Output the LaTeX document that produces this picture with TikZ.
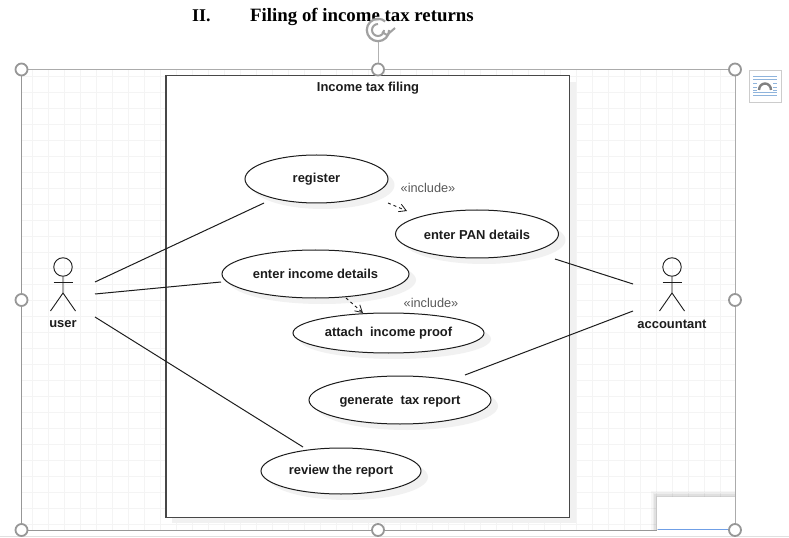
\documentclass[tikz,border=0pt]{standalone}
\usepackage{fontspec}
\setmainfont{Liberation Sans}
\newfontfamily\titlefont{Liberation Serif}
\usetikzlibrary{arrows.meta,shapes.geometric}
\definecolor{gridc}{HTML}{F4F4F4}
\definecolor{shadowc}{HTML}{F1F1F1}
\definecolor{framec}{HTML}{ABABAB}
\definecolor{handlec}{HTML}{979797}
\definecolor{inkc}{HTML}{1C1C1C}
\definecolor{wordblue}{HTML}{8FB4DC}
\definecolor{patchblue}{HTML}{6F9FE6}
\tikzset{
  x=1bp,y=-1bp,
  usecase/.style={ellipse,draw=inkc,line width=1bp,fill=white,inner sep=0pt},
  casetext/.style={inner sep=0pt,font=\fontsize{13}{15}\selectfont\bfseries,text=inkc},
  caseshadow/.style={fill=shadowc,draw=none},
  assoc/.style={draw=inkc,line width=1bp},
  incl/.style={draw=inkc,line width=.9bp,dash pattern=on 3bp off 3bp,-{Straight Barb[length=7bp,width=8bp,line width=.8bp]}},
  stereo/.style={font=\fontsize{12.8}{14}\selectfont,text=black!65,inner sep=0pt},
  stickman/.style={draw=inkc,line width=.9bp},
  handle/.style={circle,draw=handlec,line width=1.8bp,fill=white,minimum size=12bp,inner sep=0pt},
}
\begin{document}
\begin{tikzpicture}
\useasboundingbox (0,0) rectangle (789,538);
\fill[white] (0,0) rectangle (789,538);
% page bottom rule
\draw[draw=black!12,line width=1bp] (0,536) -- (789,536);
% title
\node[anchor=base west,inner sep=0pt,font=\titlefont\fontsize{18}{20}\selectfont\bfseries] (roman) at (192,21.5) {II.};
\node[anchor=base west,inner sep=0pt,font=\titlefont\fontsize{18.9}{20}\selectfont\bfseries] (title) at (250,21.5) {Filing of income tax returns};
% canvas grid
\begin{scope}
\clip (21.5,69.5) rectangle (735,530);
\foreach \gx in {32,48,...,736} \draw[gridc,line width=.8bp] (\gx,69) -- (\gx,530);
\foreach \gy in {76,92,...,530} \draw[gridc,line width=.8bp] (21,\gy) -- (735,\gy);
\end{scope}
% selection frame
\draw[framec,line width=1bp] (21.5,69.5) -- (735,69.5) -- (735,530);
\draw[handlec,line width=1bp] (21.5,69.5) -- (21.5,530) -- (657,530);
% white patch lower right
\foreach \s/\o in {6/.03,4.5/.04,3/.05,1.5/.06} \fill[black,opacity=\o] (657-\s,497-\s) rectangle (734.5,530);
\fill[white] (657,497) rectangle (734.5,528.5);
\draw[patchblue,line width=1.3bp] (658,529.5) -- (730,529.5);
% system boundary
\fill[shadowc] (172,82) rectangle (576,523);
\node[draw=black!72,line width=1bp,fill=white,minimum width=403bp,minimum height=441bp,inner sep=0pt] (system) at (367.5,296.5) {};
\node[casetext] (systemtitle) at (368,88.5) {Income tax filing};
% use-case shadows
\fill[caseshadow] (323,185) ellipse [x radius=71.5,y radius=24];
\fill[caseshadow] (484,240) ellipse [x radius=81.5,y radius=24];
\fill[caseshadow] (322,280) ellipse [x radius=94,y radius=24];
\fill[caseshadow] (395,339) ellipse [x radius=96,y radius=20];
\fill[caseshadow] (407,406) ellipse [x radius=91,y radius=24];
\fill[caseshadow] (348,477) ellipse [x radius=80,y radius=23];
% use cases
\node[usecase,minimum width=143bp,minimum height=48bp] (register) at (316.5,179) {};
\node[usecase,minimum width=163bp,minimum height=48bp] (pan) at (477,234) {};
\node[usecase,minimum width=187bp,minimum height=48bp] (income) at (315.5,274) {};
\node[usecase,minimum width=191bp,minimum height=40bp] (attach) at (388.5,333) {};
\node[usecase,minimum width=182bp,minimum height=48bp] (generate) at (400,400) {};
\node[usecase,minimum width=160bp,minimum height=46bp] (review) at (341,471) {};
\node[casetext] (registertext) at (316.5,179.5) {register};
\node[casetext] (pantext) at (477,234.5) {enter PAN details};
\node[casetext] (incometext) at (315.5,274) {enter income details};
\node[casetext] (attachtext) at (388.5,333.5) {attach\ \ income proof};
\node[casetext] (generatetext) at (400,401.5) {generate\ \ tax report};
\node[casetext] (reviewtext) at (341,471.5) {review the report};
% stereotypes
\node[stereo] (incla) at (428,187.5) {«include»};
\node[stereo] (inclb) at (431,302.5) {«include»};
% actors
\node[circle,stickman,minimum size=18.5bp,inner sep=0pt] (userhead) at (63,267) {};
\draw[stickman] (userhead.south) -- (63,293) -- (50.5,311);
\draw[stickman] (63,293) -- (75.5,311);
\draw[stickman] (53.5,282) -- (72.5,282);
\node[casetext] (user) at (63,324) {user};
\node[circle,stickman,minimum size=18.5bp,inner sep=0pt] (acchead) at (672,267) {};
\draw[stickman] (acchead.south) -- (672,293) -- (659.5,311);
\draw[stickman] (672,293) -- (684.5,311);
\draw[stickman] (662.5,282) -- (681.5,282);
\node[casetext] (accountant) at (672,324) {accountant};
% connector ends
\coordinate (ua) at (95,282);
\coordinate (ub) at (95,294);
\coordinate (uc) at (95,317);
\coordinate (ra) at (264,203);
\coordinate (ia) at (221,282);
\coordinate (rv) at (303,447);
\coordinate (pa) at (555,259);
\coordinate (ga) at (465,375);
\coordinate (aa) at (633,284);
\coordinate (ab) at (633,311);
\coordinate (da) at (388,203);
\coordinate (db) at (407,211);
\coordinate (dc) at (346,298);
\coordinate (dd) at (363,313);
\draw[assoc] (ua) -- (ra);
\draw[assoc] (ub) -- (ia);
\draw[assoc] (uc) -- (rv);
\draw[assoc] (pa) -- (aa);
\draw[assoc] (ga) -- (ab);
\draw[incl] (da) -- (db);
\draw[incl] (dc) -- (dd);
% handles
\node[handle] (h1) at (21.5,69.5) {};
\node[handle] (h2) at (378,69.5) {};
\node[handle] (h3) at (735,69.5) {};
\node[handle] (h4) at (21.5,300) {};
\node[handle] (h5) at (735,300) {};
\node[handle] (h6) at (21.5,530) {};
\node[handle] (h7) at (378,530) {};
\node[handle] (h8) at (735,530) {};
% rotation handle
\coordinate (rotfoot) at (378,41);
\draw[black!30,line width=1bp] (rotfoot) -- (h2.north);
\begin{scope}[y=1bp,shift={(378,-30)}]
\fill[white,opacity=.85] (0,0) circle[radius=12];
\draw[handlec!90,line width=2.2bp] (11.2,0) arc[start angle=0,end angle=-310,radius=11.2];
\draw[handlec!90,line width=2bp] (6,0) arc[start angle=0,end angle=-270,radius=6];
\draw[handlec!90,line width=2bp,line join=round] (4,-2) -- (9,-5) -- (17,2);
\end{scope}
% layout options icon
\node[draw=black!20,line width=1bp,fill=white,minimum width=32bp,minimum height=32bp,inner sep=0pt] (layout) at (765,86.7) {};
\foreach \ly in {76,79.5,92.3,95.7} \draw[wordblue,line width=.9bp] (753,\ly) -- (777,\ly);
\foreach \ly in {83.5,87,90} {\draw[wordblue,line width=.9bp] (753,\ly) -- (757,\ly);\draw[wordblue,line width=.9bp] (773,\ly) -- (777,\ly);}
\begin{scope}[y=1bp,shift={(765,-90)}]
\draw[black!50,line width=2.4bp] (-6,0) arc[start angle=180,end angle=0,x radius=6,y radius=6.5];
\end{scope}
\end{tikzpicture}
\end{document}
